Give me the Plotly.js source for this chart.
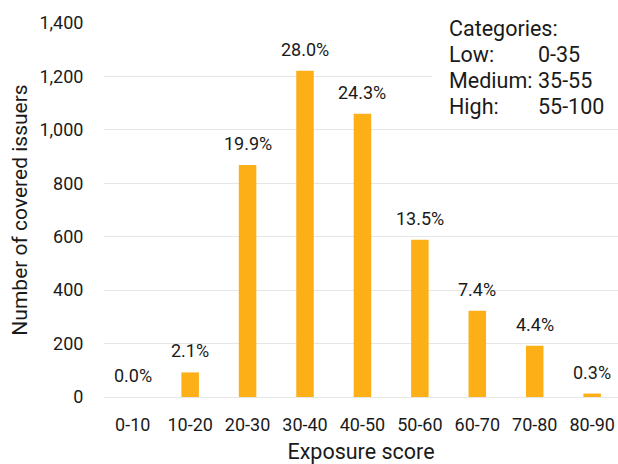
<!DOCTYPE html>
<html>
<head>
<meta charset="utf-8">
<script src="https://cdn.plot.ly/plotly-3.0.1.min.js"></script>
<style>
  html, body { margin: 0; padding: 0; background: #fff; }
  #chart { width: 618px; height: 464px; }
</style>
</head>
<body>
<div id="chart"></div>
<script>
// Exposure score buckets and the number of covered issuers in each
const scoreBands = ['0-10', '10-20', '20-30', '30-40', '40-50', '50-60', '60-70', '70-80', '80-90'];
const issuerCounts = [0, 92, 868, 1221, 1060, 589, 323, 192, 13];
const shareLabels = ['0.0%', '2.1%', '19.9%', '28.0%', '24.3%', '13.5%', '7.4%', '4.4%', '0.3%'];
const yTickValues = [0, 200, 400, 600, 800, 1000, 1200, 1400];
const yTickText = ['0', '200', '400', '600', '800', '1,000', '1,200', '1,400'];
const categoryNames = ['Categories:', 'Low:', 'Medium:', 'High:'];
const categoryRanges = ['', '0-35', '35-55', '55-100'];

const FONT = 'Roboto, "Noto Sans", sans-serif';
const TEXT = '#1a1a1a';

const trace = {
  type: 'bar',
  x: scoreBands,
  y: issuerCounts,
  marker: { color: '#FDAF18' },
  hoverinfo: 'skip'
};

// Share-of-total labels above each bar
const barLabels = scoreBands.map((band, i) => ({
  x: band,
  y: issuerCounts[i],
  xref: 'x',
  yref: 'y',
  text: shareLabels[i],
  showarrow: false,
  yanchor: 'bottom',
  yshift: 9,
  font: { family: FONT, size: 18, color: TEXT }
}));

// Category legend box in the upper right corner (plot area is 514 x 374 px)
const rowTop = 1.0 - 5 / 374;
const rowStep = 26 / 374;
const boxLabels = [];
categoryNames.forEach((name, i) => {
  boxLabels.push({
    xref: 'paper', yref: 'paper',
    x: (447 - 104) / 514, y: rowTop - i * rowStep,
    xanchor: 'left', yanchor: 'middle',
    text: name, showarrow: false,
    font: { family: FONT, size: 21.5, color: TEXT }
  });
  if (categoryRanges[i]) {
    boxLabels.push({
      xref: 'paper', yref: 'paper',
      x: (536 - 104) / 514, y: rowTop - i * rowStep,
      xanchor: 'left', yanchor: 'middle',
      text: categoryRanges[i], showarrow: false,
      font: { family: FONT, size: 21.5, color: TEXT }
    });
  }
});

const layout = {
  width: 618,
  height: 464,
  margin: { l: 104, r: 0, t: 23, b: 67 },
  paper_bgcolor: '#ffffff',
  plot_bgcolor: '#ffffff',
  showlegend: false,
  bargap: 0.695,
  font: { family: FONT, size: 18, color: TEXT },
  xaxis: {
    type: 'category',
    range: [-0.5, 8.45],
    showgrid: false,
    zeroline: false,
    showline: false,
    ticks: 'outside',
    ticklen: 11,
    tickcolor: 'rgba(0,0,0,0)',
    tickfont: { family: FONT, size: 18, color: TEXT },
    title: { text: 'Exposure score', standoff: 11, font: { family: FONT, size: 21.5, color: TEXT } },
    fixedrange: true
  },
  yaxis: {
    range: [0, 1400],
    tickvals: yTickValues,
    ticktext: yTickText,
    showgrid: true,
    gridcolor: '#e6e6e6',
    gridwidth: 1,
    zeroline: true,
    zerolinecolor: '#e6e6e6',
    zerolinewidth: 1,
    showline: false,
    ticks: 'outside',
    ticklen: 16,
    tickcolor: 'rgba(0,0,0,0)',
    tickfont: { family: FONT, size: 18, color: TEXT },
    title: { text: 'Number of covered issuers', standoff: 6, font: { family: FONT, size: 21, color: TEXT } },
    fixedrange: true
  },
  shapes: [{
    type: 'rect',
    xref: 'paper', yref: 'paper',
    x0: (432 - 104) / 514, x1: 1.0,
    y0: (397 - 126) / 374, y1: 1.0 + 23 / 374,
    fillcolor: '#ffffff',
    line: { width: 0 },
    layer: 'above'
  }],
  annotations: barLabels.concat(boxLabels)
};

Plotly.newPlot('chart', [trace], layout, { displayModeBar: false, staticPlot: true });
</script>
</body>
</html>
